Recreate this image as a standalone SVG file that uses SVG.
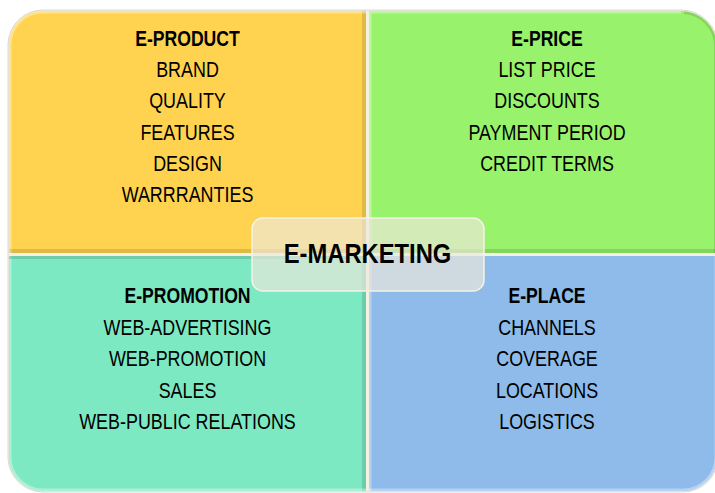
<svg xmlns="http://www.w3.org/2000/svg" width="715" height="493" viewBox="0 0 715 493">
<style>
.t{font-family:"Liberation Sans",Arial,sans-serif;font-size:22px;fill:#000;text-anchor:middle}
.b{font-weight:bold}
.dk{fill:none;stroke:#000;stroke-opacity:0.12;stroke-width:4}
.lt{fill:none;stroke:#fff;stroke-opacity:0.35;stroke-width:3}
</style>
<defs>
<clipPath id="cy"><path d="M9,45 A34,34 0 0 1 43,11 L366,11 L366,253 L9,253 Z"/></clipPath>
<clipPath id="cg"><path d="M369,11 L681,11 A36,36 0 0 1 717,47 L717,253 L369,253 Z"/></clipPath>
<clipPath id="ct"><path d="M9,256 L366,256 L366,491 L43,491 A34,34 0 0 1 9,457 Z"/></clipPath>
<clipPath id="cb"><path d="M369,256 L717,256 L717,457 A34,34 0 0 1 683,491 L369,491 Z"/></clipPath>
</defs>
<rect width="715" height="493" fill="#fff"/>
<path d="M8,44 A35,35 0 0 1 43,10 L681,10 A37,37 0 0 1 718,47 L718,457 A35,35 0 0 1 683,492 L43,492 A35,35 0 0 1 8,457 Z" fill="#F3F1E2" stroke="#d8d8d0" stroke-width="1"/>
<g id="e-product">
<path d="M9,45 A34,34 0 0 1 43,11 L366,11 L366,253 L9,253 Z" fill="#FFD34F"/>
<g clip-path="url(#cy)"><path class="dk" d="M9,251 L364,251 L364,11"/><path class="lt" d="M10,253 L10,45 A33,33 0 0 1 43,12 L366,12"/></g>
<text class="t b" transform="translate(187.5,45.5) scale(0.8,1)">E-PRODUCT</text>
<text class="t" transform="translate(187.5,77) scale(0.815,1)">BRAND</text>
<text class="t" transform="translate(187.5,108.3) scale(0.815,1)">QUALITY</text>
<text class="t" transform="translate(187.5,139.5) scale(0.815,1)">FEATURES</text>
<text class="t" transform="translate(187.5,171) scale(0.815,1)">DESIGN</text>
<text class="t" transform="translate(187.5,202) scale(0.815,1)">WARRRANTIES</text>
</g>
<g id="e-price">
<path d="M369,11 L681,11 A36,36 0 0 1 717,47 L717,253 L369,253 Z" fill="#99F26B"/>
<g clip-path="url(#cg)"><path class="dk" d="M369,251 L717,251"/><path class="dk" d="M684,12 A34,34 0 0 1 716,46 L716,253"/><path class="lt" d="M370,253 L370,12 L681,12"/></g>
<text class="t b" transform="translate(547,45.5) scale(0.8,1)">E-PRICE</text>
<text class="t" transform="translate(547,77) scale(0.815,1)">LIST PRICE</text>
<text class="t" transform="translate(547,108.3) scale(0.815,1)">DISCOUNTS</text>
<text class="t" transform="translate(547,139.5) scale(0.815,1)">PAYMENT PERIOD</text>
<text class="t" transform="translate(547,171) scale(0.815,1)">CREDIT TERMS</text>
</g>
<g id="e-promotion">
<path d="M9,256 L366,256 L366,491 L43,491 A34,34 0 0 1 9,457 Z" fill="#7DE9C3"/>
<g clip-path="url(#ct)"><path class="dk" d="M364,256 L364,491"/><path class="lt" d="M10,256 L10,457 A33,33 0 0 0 43,490 L366,490"/><path class="dk" d="M9,257 L366,257" stroke-opacity="0.08"/></g>
<text class="t b" transform="translate(187.5,303) scale(0.8,1)">E-PROMOTION</text>
<text class="t" transform="translate(187.5,334.5) scale(0.815,1)">WEB-ADVERTISING</text>
<text class="t" transform="translate(187.5,366) scale(0.815,1)">WEB-PROMOTION</text>
<text class="t" transform="translate(187.5,397.5) scale(0.815,1)">SALES</text>
<text class="t" transform="translate(187.5,429) scale(0.815,1)">WEB-PUBLIC RELATIONS</text>
</g>
<g id="e-place">
<path d="M369,256 L717,256 L717,457 A34,34 0 0 1 683,491 L369,491 Z" fill="#8EBBEA"/>
<g clip-path="url(#cb)"><path class="lt" d="M369,490 L683,490 A33,33 0 0 0 716,457 L716,256" stroke-opacity="0.6"/><path class="lt" d="M370,256 L370,491"/></g>
<text class="t b" transform="translate(547,303) scale(0.8,1)">E-PLACE</text>
<text class="t" transform="translate(547,334.5) scale(0.815,1)">CHANNELS</text>
<text class="t" transform="translate(547,366) scale(0.815,1)">COVERAGE</text>
<text class="t" transform="translate(547,397.5) scale(0.815,1)">LOCATIONS</text>
<text class="t" transform="translate(547,429) scale(0.815,1)">LOGISTICS</text>
</g>
<g id="e-marketing">
<rect x="252" y="218" width="232" height="73" rx="11" fill="#EEE8DC" fill-opacity="0.68" stroke="#F4F2E6" stroke-width="1.5"/>
<text class="t b" style="font-size:27px" transform="translate(367.5,263) scale(0.88,1)">E-MARKETING</text>
</g>
<g id="connectors"></g>
</svg>
